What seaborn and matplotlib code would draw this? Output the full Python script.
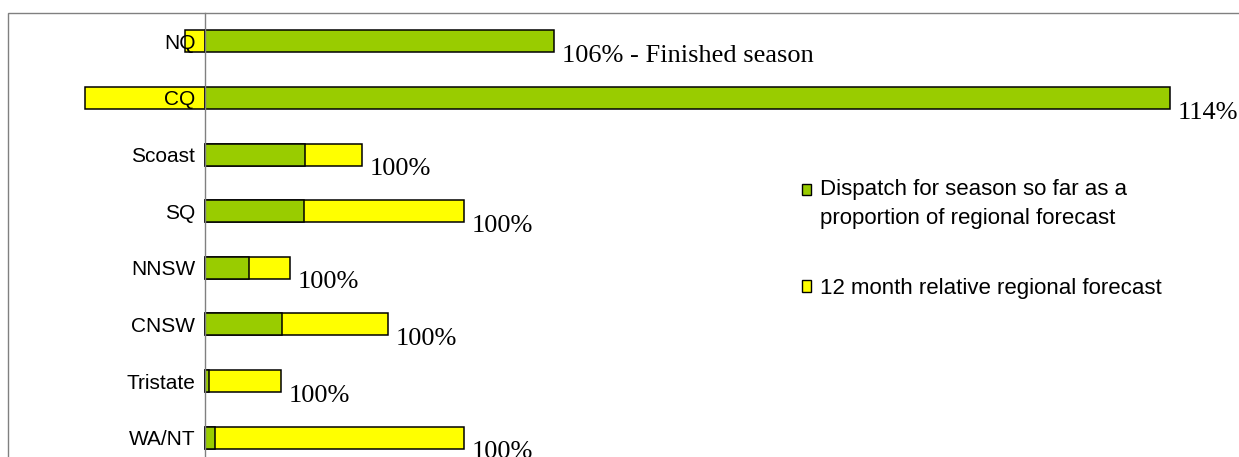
import matplotlib.pyplot as plt
import numpy as np
import pandas as pd
import seaborn as sns
from matplotlib.legend_handler import HandlerPatch
from matplotlib.patches import Patch, Rectangle

# -----------------------------------------------------
# DATA
# -----------------------------------------------------

regions = ["NQ", "CQ", "Scoast", "SQ", "NNSW", "CNSW", "Tristate", "WA/NT"]

# dispatch for the season so far and 12 month regional forecast
dispatch = [34.9, 96.5, 10.0, 9.9, 4.4, 7.7, 0.4, 1.0]
forecast = [32.9, 84.5, 15.7, 25.9, 8.5, 18.3, 7.6, 25.9]

pct_labels = [
    "106% - Finished season", "114%", "100%", "100%",
    "100%", "100%", "100%", "100%",
]

GREEN = "#99CC00"
YELLOW = "#FFFF00"
GREY = "#808080"

sns.set_style("white")
plt.rcParams["font.family"] = ["Liberation Sans", "DejaVu Sans"]
plt.rcParams["text.color"] = "black"
plt.rcParams["ytick.labelcolor"] = "black"

df = pd.DataFrame({
    "region": regions,
    "dispatch": dispatch,
    "forecast": forecast,
})
df["remaining"] = df["forecast"] - df["dispatch"]
# stacked like excel: remaining goes on top of dispatch, or below zero if negative
df["yellow"] = np.where(df["remaining"] > 0, df["forecast"], df["remaining"])
df["bar_end"] = np.maximum(df["dispatch"], df["forecast"])

W, H = 1239, 457
fig = plt.figure(figsize=(W / 100, H / 100), dpi=100)

# plot area in pixels: x=0 at px 205, 10 px per unit; y from px 13 to 466
ax = fig.add_axes([0, (H - 466) / H, 1, (466 - 13) / H])

sns.barplot(
    data=df, x="yellow", y="region", orient="h",
    color=YELLOW, saturation=1, edgecolor="black", linewidth=1.1,
    width=0.39, ax=ax,
)
sns.barplot(
    data=df, x="dispatch", y="region", orient="h",
    color=GREEN, saturation=1, edgecolor="black", linewidth=1.1,
    width=0.39, ax=ax,
)

ax.set_xlim(-205 / 10, (W - 205) / 10)
ax.set_ylim(len(regions) - 0.5, -0.5)
ax.set_xlabel("")
ax.set_ylabel("")
ax.xaxis.set_visible(False)
ax.set_axisbelow(False)  # region names sit on top of the yellow bars

for side in ["top", "right", "bottom"]:
    ax.spines[side].set_visible(False)
ax.spines["left"].set_position(("data", 0))
ax.spines["left"].set_color(GREY)
ax.spines["left"].set_linewidth(1.0)

ax.set_yticks(np.arange(-0.5, len(regions), 1), minor=True)
ax.tick_params(axis="y", which="major", length=0, pad=7, labelsize=15)
ax.tick_params(axis="y", which="minor", length=3.5, width=1.0,
               color=GREY, direction="out")
ax.patch.set_alpha(0)

# percentage labels to the right of each bar
for i, row in df.iterrows():
    ax.annotate(
        pct_labels[i], xy=(row["bar_end"], i),
        xytext=(5.5, -10.5), textcoords="offset points",
        ha="left", va="center", fontsize=19, color="black",
        family=["Liberation Serif", "DejaVu Serif"],
    )


def top_square(legend, orig_handle, xdescent, ydescent, width, height, fontsize):
    # marker lines up with the first line of a two line label
    return Rectangle((-xdescent, -ydescent + 0.5 * 1.5 * fontsize * 0.86),
                     width, height)


handles = [
    Patch(facecolor=GREEN, edgecolor="black", linewidth=1.0,
          label="Dispatch for season so far as a\nproportion of regional forecast"),
    Patch(facecolor=YELLOW, edgecolor="black", linewidth=1.0,
          label="12 month relative regional forecast"),
]
leg = fig.legend(
    handles=handles, loc="upper left",
    bbox_to_anchor=(802 / W, (H - 179) / H),
    frameon=False, fontsize=16, borderpad=0, borderaxespad=0,
    handlelength=0.42, handleheight=0.42, handletextpad=0.4,
    labelspacing=2.2,
    handler_map={handles[0]: HandlerPatch(patch_func=top_square)},
)
for t in leg.get_texts():
    t.set_linespacing(1.5)
    t.set_color("black")

# chart area border (clipped at the image edge)
fig.add_artist(Rectangle(
    (8 / W, -0.5), 2, 0.5 + (H - 13) / H,
    transform=fig.transFigure, fill=False,
    edgecolor=GREY, linewidth=1.0, zorder=0,
))

plt.savefig("out.png", dpi=100)
plt.close()
